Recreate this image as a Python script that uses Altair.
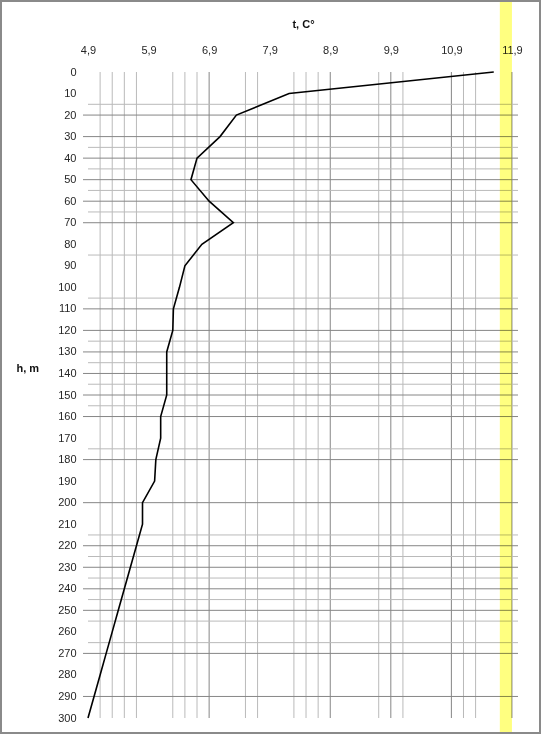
import altair as alt
import pandas as pd

# Temperature profile: depth (m) and water temperature (°C)
depth_m = [0, 10, 20, 30, 40, 50, 60, 70, 80, 90, 100, 110, 120, 130, 140, 150,
           160, 170, 180, 190, 200, 210, 220, 230, 240, 250, 260, 270, 280, 290, 300]
temp_c = [11.60, 8.22, 7.35, 7.08, 6.70, 6.60, 6.90, 7.30, 6.78, 6.50, 6.41, 6.31,
          6.30, 6.20, 6.20, 6.20, 6.10, 6.10, 6.02, 6.00, 5.80, 5.80, 5.70, 5.60,
          5.50, 5.40, 5.30, 5.20, 5.10, 5.00, 4.90]

# Axis labels
t_ticks = [4.9, 5.9, 6.9, 7.9, 8.9, 9.9, 10.9, 11.9]
h_ticks = list(range(0, 301, 10))

# Grid lines (temperature and depth values)
t_grid_major = [6.9, 8.9, 9.9, 10.9, 11.9]
t_grid_minor = [5.1, 5.3, 5.5, 5.7, 6.3, 6.5, 6.7, 7.5, 7.7, 8.3, 8.5, 8.7,
                9.7, 10.1, 11.1, 11.3]
h_grid_major = [20, 30, 40, 50, 60, 70, 110, 120, 130, 140, 150, 160, 180, 200,
                220, 230, 240, 250, 270, 290]
h_grid_minor = [15, 35, 45, 55, 65, 85, 105, 125, 135, 145, 155, 175, 215, 225,
                235, 245, 255, 265]

# Highlighted temperature band
band_from = [11.7]
band_to = [11.9]

W, H = 430, 646
PAD = {"left": 88, "top": 72, "right": 23, "bottom": 16}
FONT = "Liberation Sans"

x_scale = alt.Scale(domain=[4.9, 12.0], nice=False, zero=False)
y_scale = alt.Scale(domain=[0, 300], nice=False, zero=False, reverse=True)

x_axis = alt.Axis(
    orient="top", values=t_ticks,
    labelExpr="replace(format(datum.value, '.1f'), '.', ',')",
    labelFlush=False, labelOverlap=False, ticks=False,
    domain=False, grid=False, labelPadding=17,
    labelFont=FONT, labelFontSize=11, labelColor="#262626",
    title="t, C°", titleFont=FONT, titleFontSize=11, titleFontWeight="bold",
    titleColor="#111", titleX=W / 2, titleY=-45, titleAlign="center",
    titleBaseline="alphabetic")

y_axis = alt.Axis(
    values=h_ticks, labelFlush=False, labelOverlap=False, ticks=False,
    domain=False, grid=False, labelPadding=12,
    labelFont=FONT, labelFontSize=11, labelColor="#262626",
    title="h, m", titleFont=FONT, titleFontSize=11, titleFontWeight="bold",
    titleColor="#111", titleAngle=0, titleX=-72, titleY=299,
    titleAlign="left", titleBaseline="alphabetic")

X = lambda f: alt.X(f, scale=x_scale, axis=x_axis)
Y = lambda f: alt.Y(f, scale=y_scale, axis=y_axis)

profile = pd.DataFrame({"h": depth_m, "t": temp_c})

vgrid_minor = alt.Chart(pd.DataFrame({"t": t_grid_minor})).mark_rule(
    color="#bababa", strokeWidth=1).encode(
    x=X("t:Q"), y=alt.value(0), y2=alt.value(H))

vgrid_major = alt.Chart(pd.DataFrame({"t": t_grid_major})).mark_rule(
    color="#868686", strokeWidth=1).encode(
    x=X("t:Q"), y=alt.value(0), y2=alt.value(H))

hgrid_minor = alt.Chart(pd.DataFrame({"h": h_grid_minor})).mark_rule(
    color="#bababa", strokeWidth=1).encode(
    y=Y("h:Q"), x=alt.value(0), x2=alt.value(W))

hgrid_major = alt.Chart(pd.DataFrame({"h": h_grid_major})).mark_rule(
    color="#868686", strokeWidth=1).encode(
    y=Y("h:Q"), x=alt.value(-5), x2=alt.value(W))

band = alt.Chart(pd.DataFrame({"t": band_from, "t1": band_to})).mark_rect(
    color="#ffff80", blend="multiply").encode(
    x=X("t:Q"), x2="t1:Q",
    y=alt.value(-PAD["top"]), y2=alt.value(H + PAD["bottom"]))

line = alt.Chart(profile).mark_line(color="black", strokeWidth=1.6).encode(
    x=X("t:Q"), y=Y("h:Q"), order=alt.Order("h:Q"))

frame = alt.Chart(pd.DataFrame({"k": [0]})).mark_rect(
    filled=False, stroke="#8a8a8a", strokeWidth=2).encode(
    x=alt.value(-PAD["left"] + 1), x2=alt.value(W + PAD["right"] - 1),
    y=alt.value(-PAD["top"] + 1), y2=alt.value(H + PAD["bottom"] - 1))

chart = alt.layer(
    vgrid_minor, vgrid_major, hgrid_minor, hgrid_major, band, line, frame
).properties(
    width=W, height=H, padding=PAD,
    autosize=alt.AutoSizeParams(type="none"),
    background="white",
).configure_view(strokeWidth=0)

chart.save("out.html", embed_options={"renderer": "svg", "actions": False})
